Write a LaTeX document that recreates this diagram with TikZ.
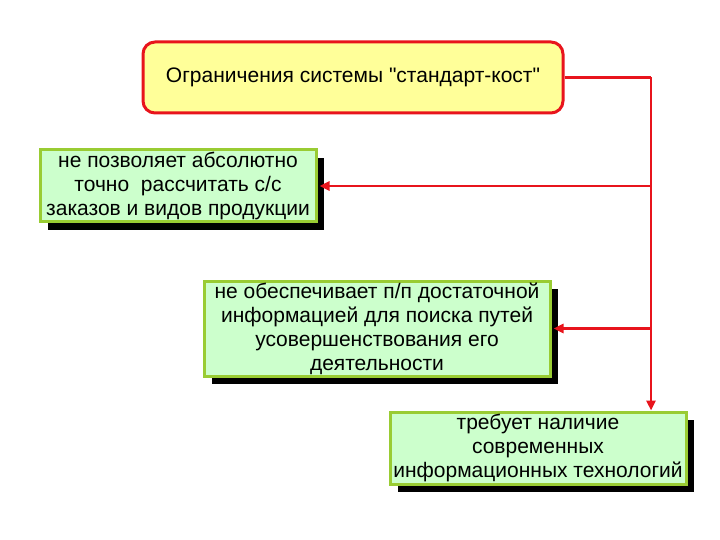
\documentclass[tikz,border=0pt]{standalone}
\usepackage{fontspec}
\setmainfont{Liberation Sans}[Ligatures=TeXOff]
\usetikzlibrary{arrows.meta,shadows}
\definecolor{boxred}{HTML}{E8141C}
\definecolor{boxyellow}{HTML}{FFFF99}
\definecolor{boxgreen}{HTML}{CCFFCC}
\definecolor{greenborder}{HTML}{99CC33}
\tikzset{
  topbox/.style={draw=boxred, line width=3pt, fill=boxyellow, rounded corners=12pt,
    font=\fontsize{21}{24.5}\selectfont, align=center, inner sep=0pt},
  greenbox/.style={draw=greenborder, line width=3pt, fill=boxgreen,
    font=\fontsize{21}{24}\selectfont, align=center, inner sep=0pt,
    drop shadow={shadow xshift=8pt, shadow yshift=-8pt, opacity=1, fill=black}},
  redline/.style={draw=boxred, line width=2.5pt},
  redarrow/.style={redline, -{Triangle[length=10pt,width=9pt]}}
}
\begin{document}
\begin{tikzpicture}[x=1pt,y=-1pt]
\useasboundingbox (0,0) rectangle (720,540);
\node[topbox, minimum width=420pt, minimum height=71pt] (top) at (353,77.5)
  {Ограничения системы "стандарт-кост"};
\node[greenbox, minimum width=276pt, minimum height=72pt] (b1) at (178,186)
  {не позволяет абсолютно\\точно\ \ рассчитать с/с\\заказов и видов продукции};
\node[greenbox, minimum width=346pt, minimum height=95pt] (b2) at (377,328.5)
  {не обеспечивает п/п достаточной\\информацией для поиска путей\\усовершенствования его\\деятельности};
\node[greenbox, minimum width=296pt, minimum height=72pt] (b3) at (538,448)
  {требует наличие\\современных\\информационных технологий};
\coordinate (corner) at (651,77.5);
\draw[redline] (top.east) -- (corner);
\draw[redarrow] (corner) -- (corner |- b3.north);
\draw[redarrow] (corner |- b1.east) -- ([xshift=2pt]b1.east);
\draw[redarrow] (corner |- b2.east) -- ([xshift=2pt]b2.east);
\end{tikzpicture}
\end{document}
